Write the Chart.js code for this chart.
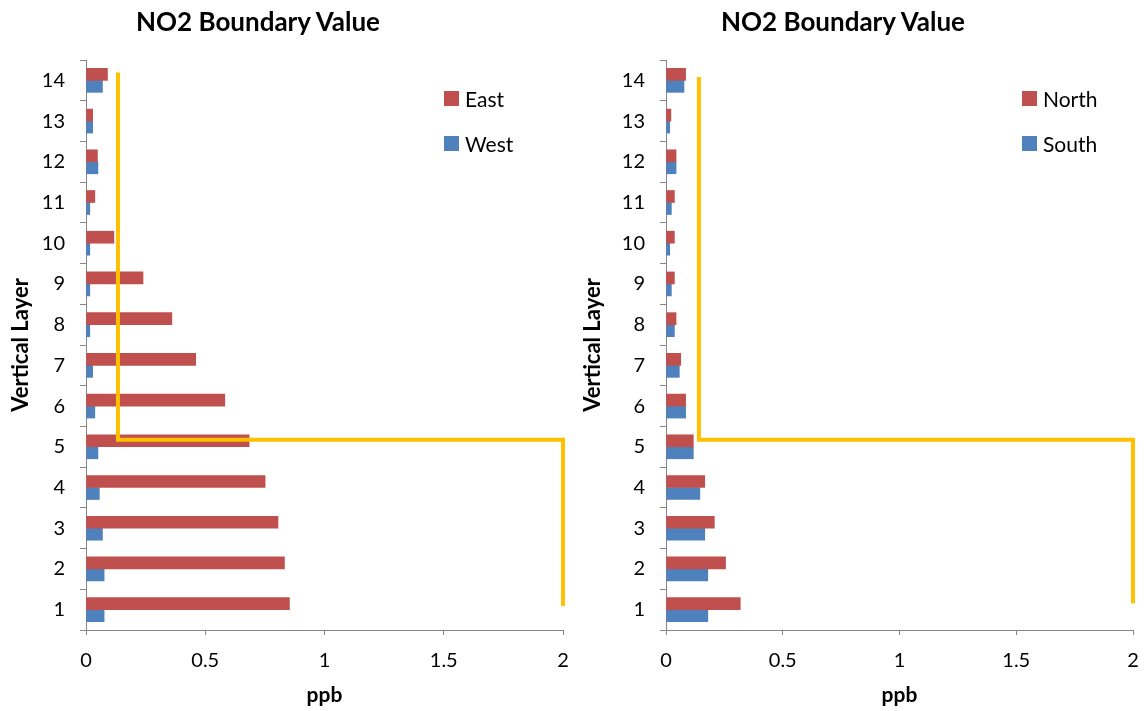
<!DOCTYPE html>
<html>
<head>
<meta charset="utf-8">
<script src="https://cdn.jsdelivr.net/npm/chart.js@4"></script>
<style>
  body { margin: 0; background: #fff; font-family: Lato, sans-serif; }
  #wrap { position: relative; width: 1144px; height: 711px; }
  .box { position: absolute; top: 0; width: 572px; height: 711px; }
  .title { position: absolute; top: 5px; font-weight: bold; font-size: 26px; color: #000; white-space: nowrap; transform: translateX(-50%); }
  .legend { position: absolute; font-size: 21px; color: #000; }
  .legend div { height: 45px; display: flex; align-items: flex-start; }
  .legend span.sw { display: inline-block; width: 15px; height: 15px; margin: 5px 6px 0 0; }
</style>
</head>
<body>
<div id="wrap">
  <div class="box" style="left:0"><canvas id="leftChart" width="572" height="711"></canvas></div>
  <div class="box" style="left:572px"><canvas id="rightChart" width="572" height="711"></canvas></div>
  <div class="title" style="left:258px">NO2 Boundary Value</div>
  <div class="title" style="left:843px">NO2 Boundary Value</div>
  <div class="legend" id="leftLegend" style="left:444px;top:86px"></div>
  <div class="legend" id="rightLegend" style="left:1022px;top:86px"></div>
</div>
<script>
const layers = ["1", "2", "3", "4", "5", "6", "7", "8", "9", "10", "11", "12", "13", "14"];
const xTicks = [0, 0.5, 1, 1.5, 2];

const east = [0.853, 0.832, 0.805, 0.751, 0.684, 0.582, 0.46, 0.36, 0.239, 0.117, 0.037, 0.048, 0.028, 0.09];
const west = [0.076, 0.076, 0.069, 0.056, 0.05, 0.037, 0.028, 0.016, 0.016, 0.016, 0.016, 0.05, 0.028, 0.069];
const north = [0.318, 0.255, 0.207, 0.166, 0.117, 0.084, 0.063, 0.043, 0.036, 0.036, 0.036, 0.043, 0.021, 0.084];
const south = [0.179, 0.179, 0.166, 0.145, 0.117, 0.084, 0.057, 0.036, 0.023, 0.016, 0.023, 0.043, 0.016, 0.077];

// yellow boundary outline, in data units (x = ppb, y = layer)
const leftBoundX = [0.134, 0.134, 2, 2];
const leftBoundY = [14.19, 5.17, 5.17, 1.09];
const rightBoundX = [0.141, 0.141, 2, 2];
const rightBoundY = [14.08, 5.17, 5.17, 1.16];

const RED = "#C0504D";
const BLUE = "#4F81BD";
const YELLOW = "#FFC000";
const AXIS = "#868686";

const makeChart = (id, labelA, dataA, labelB, dataB, boundX, boundY, leftWidth, rightPad, legendId) => {
  const ctx = document.getElementById(id).getContext("2d");
  // category axis works in label indexes: layer 1 -> index 0
  const boundPts = boundX.map((x, i) => ({ x: x, y: boundY[i] - 1 }));

  new Chart(ctx, {
    type: "bar",
    data: {
      labels: layers,
      datasets: [
        { label: labelA, data: dataA, backgroundColor: RED, borderWidth: 0, barThickness: 12, order: 2 },
        { label: labelB, data: dataB, backgroundColor: BLUE, borderWidth: 0, barThickness: 12, order: 2 },
        {
          type: "line",
          label: "boundary",
          data: boundPts,
          parsing: false,
          normalized: true,
          indexAxis: "x",
          borderColor: YELLOW,
          borderWidth: 4,
          pointRadius: 0,
          fill: false,
          tension: 0,
          clip: false,
          borderJoinStyle: "miter",
          order: 1,
        },
      ],
    },
    options: {
      indexAxis: "y",
      responsive: false,
      animation: false,
      layout: { padding: { top: 60, right: rightPad, left: 0, bottom: 0 } },
      plugins: { legend: { display: false }, title: { display: false }, tooltip: { enabled: false } },
      scales: {
        x: {
          type: "linear",
          min: 0,
          max: 2,
          afterBuildTicks: (scale) => { scale.ticks = xTicks.map((v) => ({ value: v })); },
          afterFit: (scale) => {
            scale.height = 81;
            scale.paddingLeft = 0;
            scale.paddingRight = 0;
          },
          grid: { display: true, drawOnChartArea: false, drawTicks: true, tickLength: 5, color: AXIS },
          border: { display: true, color: AXIS, width: 1 },
          ticks: { color: "#000", font: { family: "Lato", size: 20 }, padding: 14, callback: (v) => String(v) },
          title: { display: true, text: "ppb", color: "#000", font: { family: "Lato", size: 21, weight: "bold" }, padding: { top: 0, bottom: 3 } },
        },
        y: {
          type: "category",
          reverse: true,
          offset: true,
          afterFit: (scale) => { scale.width = leftWidth; },
          grid: { display: true, offset: true, drawOnChartArea: false, drawTicks: true, tickLength: 6, color: AXIS },
          border: { display: true, color: AXIS, width: 1 },
          ticks: { color: "#000", font: { family: "Lato", size: 20 }, padding: 15 },
          title: { display: true, text: "Vertical Layer", color: "#000", font: { family: "Lato", size: 22, weight: "bold" }, padding: { top: 8, bottom: 0 } },
        },
      },
    },
  });

  const legend = document.getElementById(legendId);
  [[labelA, RED], [labelB, BLUE]].forEach(([text, color]) => {
    const row = document.createElement("div");
    row.innerHTML = `<span class="sw" style="background:${color}"></span>${text}`;
    legend.appendChild(row);
  });
};

makeChart("leftChart", "East", east, "West", west, leftBoundX, leftBoundY, 86, 9, "leftLegend");
makeChart("rightChart", "North", north, "South", south, rightBoundX, rightBoundY, 94, 11, "rightLegend");
</script>
</body>
</html>
